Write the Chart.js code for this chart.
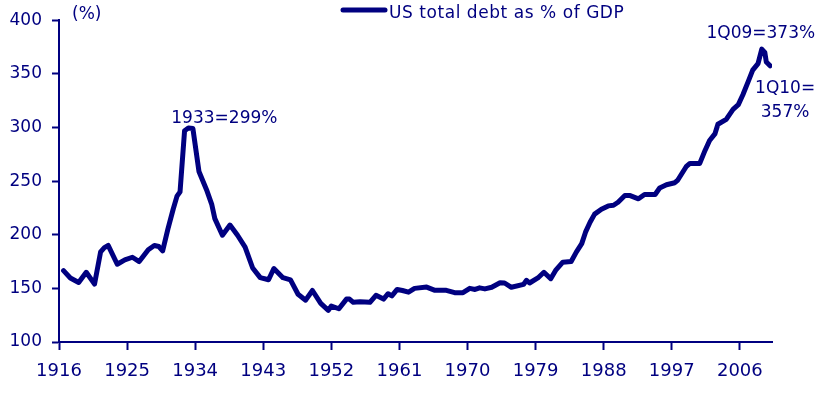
<!DOCTYPE html>
<html><head><meta charset="utf-8">
<script src="https://cdn.jsdelivr.net/npm/chart.js@4.4.0/dist/chart.umd.min.js"></script>
<style>html,body{margin:0;padding:0;background:#fff}#wrap{width:824px;height:393px}</style>
</head><body><div id="wrap"><canvas id="c" width="824" height="393"></canvas></div>
<script>
const years = [1916.6,1917.5,1918.6,1919.6,1920.7,1921.5,1922.0,1922.5,1923.7,1924.7,1925.7,1926.6,1927.8,1928.6,1929.2,1929.7,1930.4,1931.1,1931.6,1932.0,1932.6,1933.1,1933.7,1934.5,1935.5,1936.2,1936.6,1937.6,1938.6,1939.6,1940.6,1941.6,1942.6,1943.7,1944.4,1945.6,1946.6,1947.6,1948.6,1949.5,1950.6,1951.6,1952.0,1953.0,1954.0,1954.4,1954.9,1955.8,1957.1,1957.9,1958.9,1959.5,1960.0,1960.7,1961.4,1962.2,1963.0,1964.6,1965.7,1967.2,1968.3,1969.4,1970.3,1971.0,1971.6,1972.3,1973.2,1974.3,1974.9,1975.8,1977.4,1977.8,1978.2,1979.3,1980.1,1981.0,1981.7,1982.6,1983.7,1984.4,1985.1,1985.6,1986.2,1986.8,1987.7,1988.6,1989.3,1989.9,1990.8,1991.5,1992.6,1993.4,1994.8,1995.4,1996.3,1997.4,1997.8,1998.9,1999.4,2000.7,2001.4,2002.0,2002.7,2003.1,2004.2,2005.1,2005.8,2006.4,2007.1,2007.7,2008.4,2008.9,2009.3,2009.5,2010.0];
const debtPct = [166.5,159.7,155.5,165,154,184,188,190,172.5,176.5,179,175,186,190,189,185,205.5,224,236,240,297,299.5,299,259,242,228,215,199.5,209,199.5,188.5,169,160,158,168.5,160,158,144.5,139,148,136,129.5,133.5,131,140,140,137,137.5,137,143.5,140,145,143,149,148,146.5,150,151.2,148.2,148.2,146,146,150,149,150.5,149.5,151,155.2,155,151,153.7,157.5,155,159.7,165,159,167.3,174.4,175,184,191.7,202.4,211.6,219.2,223.8,226.9,227.5,230.3,236.5,236.5,233.5,237.5,237.5,243.6,246.6,248.5,251,263.4,266.5,266.5,278.6,287.8,294,303,307.6,316.8,321.3,330.5,342.7,353.4,359.5,373,370,361,357.5];
const xTicks = [1916,1925,1934,1943,1952,1961,1970,1979,1988,1997,2006];
const yTicks = [100,150,200,250,300,350,400];
const seriesLabel = 'US total debt as % of GDP';
const unitLabel = '(%)';
const peakLabel = '1933=299%';
const highLabel = '1Q09=373%';
const lastLabel1 = '1Q10=';
const lastLabel2 = '357%';

const NAVY = '#000080';
const FONT = 'DejaVu Sans';

const overlay = {
  id: 'overlay',
  afterDraw(chart) {
    const ctx = chart.ctx;
    const xs = chart.scales.x, ys = chart.scales.y;
    ctx.save();
    ctx.fillStyle = NAVY;
    ctx.strokeStyle = NAVY;
    // legend
    ctx.lineWidth = 5;
    ctx.lineCap = 'round';
    ctx.beginPath(); ctx.moveTo(343, 10); ctx.lineTo(385, 10); ctx.stroke();
    ctx.font = '17px "' + FONT + '"';
    ctx.textBaseline = 'alphabetic';
    ctx.textAlign = 'left';
    ctx.letterSpacing = '0.55px';
    ctx.fillText(seriesLabel, 389, 18);
    ctx.letterSpacing = '0px';
    // unit
    ctx.fillText(unitLabel, 72, 19);
    // annotations
    ctx.textAlign = 'center';
    ctx.fillText(peakLabel, xs.getPixelForValue(1933.1) + 36, ys.getPixelForValue(299.5) - 5);
    ctx.fillText(highLabel, xs.getPixelForValue(2008.9) - 1, ys.getPixelForValue(373) - 11);
    ctx.fillText(lastLabel1, xs.getPixelForValue(2010.0) + 15, ys.getPixelForValue(357.5) + 27);
    ctx.fillText(lastLabel2, xs.getPixelForValue(2010.0) + 15, ys.getPixelForValue(357.5) + 51);
    ctx.restore();
  }
};

new Chart(document.getElementById('c'), {
  type: 'line',
  data: {
    datasets: [{
      label: seriesLabel,
      data: years.map((y, i) => ({x: y, y: debtPct[i]})),
      borderColor: NAVY,
      backgroundColor: NAVY,
      borderWidth: 5,
      pointRadius: 0,
      tension: 0,
      borderJoinStyle: 'round',
      borderCapStyle: 'round',
      fill: false
    }]
  },
  options: {
    responsive: false,
    animation: false,
    devicePixelRatio: 1,
    layout: {padding: {left: 0, right: 52, top: 14, bottom: 0}},
    plugins: {legend: {display: false}, tooltip: {enabled: false}},
    scales: {
      x: {
        type: 'linear', min: 1916, max: 2010.25,
        afterBuildTicks: s => { s.ticks = xTicks.map(v => ({value: v})); },
        afterFit: s => { s.height = 51; },
        grid: {drawOnChartArea: false, drawTicks: true, tickLength: 8, tickWidth: 2, color: NAVY},
        border: {display: true, color: NAVY, width: 2},
        ticks: {color: NAVY, font: {family: FONT, size: 18}, padding: 11, maxRotation: 0, autoSkip: false, callback: v => String(v)}
      },
      y: {
        min: 100, max: 400,
        afterBuildTicks: s => { s.ticks = yTicks.map(v => ({value: v})); },
        afterFit: s => { s.width = 59; },
        grid: {drawOnChartArea: false, drawTicks: true, tickLength: 7, tickWidth: 2, color: NAVY},
        border: {display: true, color: NAVY, width: 2},
        ticks: {color: NAVY, font: {family: FONT, size: 17}, padding: 10, callback: v => String(v)}
      }
    }
  },
  plugins: [overlay]
});
</script>
</body></html>
